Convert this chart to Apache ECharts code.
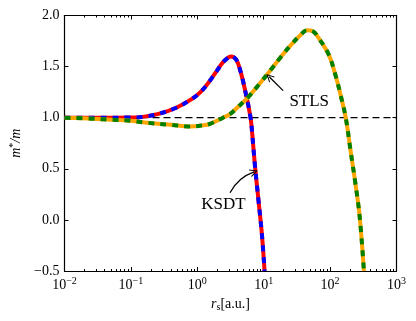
<!DOCTYPE html>
<html>
<head>
<meta charset="utf-8">
<script src="https://cdn.jsdelivr.net/npm/echarts@6/dist/echarts.min.js"></script>
<style>
  html, body { margin: 0; padding: 0; background: #fff; }
  #chart { width: 416px; height: 321px; }
</style>
</head>
<body>
<div id="chart"></div>
<script>
// values
const ksdtX = [0.01, 0.03, 0.1, 0.15, 0.27, 0.49, 0.86, 1.094, 1.35, 1.66, 1.98, 2.35, 2.71, 3.22, 3.83, 4.4, 5.24, 6.34, 6.7, 7.41, 8.32, 9.36, 10.3];
const ksdtY = [1.0, 1.0, 1.002, 1.008, 1.04, 1.10, 1.19, 1.245, 1.31, 1.39, 1.46, 1.53, 1.57, 1.60, 1.57, 1.47, 1.27, 1.0, 0.85, 0.52, 0.2, -0.13, -0.5];

const stlsX = [0.01, 0.026, 0.05, 0.1, 0.15, 0.4, 0.78, 1.2, 1.55, 2.44, 3.1, 4.0, 5.8, 8.6, 12.5, 17.9, 25.6, 36, 45, 55, 67, 95, 120, 143, 172, 202, 240, 279, 323];
const stlsY = [1.0, 0.99, 0.98, 0.97, 0.955, 0.93, 0.915, 0.925, 0.94, 1.0, 1.035, 1.1, 1.2, 1.33, 1.46, 1.59, 1.71, 1.81, 1.855, 1.845, 1.78, 1.62, 1.42, 1.23, 1.0, 0.69, 0.36, 0.03, -0.5];

const refX = [0.01, 1000];
const refY = [1, 1];

// annotations: [text x, text y], arrow [from, to]
const stlsLabel = [48.5, 1.157];
const stlsArrow = [[19.6, 1.265], [12.1, 1.40]];
const ksdtLabel = [2.48, 0.147];
const ksdtArrow = [[3.11, 0.265], [7.16, 0.47]];

const font = "'Liberation Serif', 'DejaVu Serif', serif";

const zip = (xs, ys) => xs.map((x, i) => [x, ys[i]]);

// minor tick positions in log10 space
const minorLog = [];
for (let n = -2; n < 3; n++) {
  for (let k = 2; k <= 9; k++) minorLog.push(n + Math.log10(k));
}

const chevron = 'path://M0,10 L5,0 L10,10 L8.6,10 L5,2.8 L1.4,10 Z';

function supLabel(v) {
  const e = Math.round(Math.log10(v));
  return '{b|10}{e|' + (e < 0 ? '−' + (-e) : e) + '}';
}

const chart = echarts.init(document.getElementById('chart'));

const majorX = (pos, labels) => ({
  type: 'log',
  logBase: 10,
  min: 0.01,
  max: 1000,
  position: pos,
  axisLine: { show: true, onZero: false, lineStyle: { color: '#000', width: 1.2 } },
  axisTick: { show: true, inside: true, length: 4, lineStyle: { color: '#000', width: 1 } },
  axisLabel: labels ? {
    show: true,
    margin: 5,
    formatter: supLabel,
    rich: {
      b: { fontFamily: font, fontSize: 14, color: '#000' },
      e: { fontFamily: font, fontSize: 10, color: '#000', padding: [0, 0, 8, 0] }
    }
  } : { show: false },
  splitLine: { show: false },
  minorTick: { show: false }
});

const minorX = (pos) => ({
  type: 'value',
  min: -2,
  max: 3,
  position: pos,
  axisLine: { show: false, onZero: false },
  axisTick: { show: true, inside: true, length: 2, customValues: minorLog, lineStyle: { color: '#000', width: 1 } },
  axisLabel: { show: false, customValues: minorLog },
  splitLine: { show: false }
});

const yBase = (pos, labels) => ({
  type: 'value',
  min: -0.5,
  max: 2.0,
  interval: 0.5,
  position: pos,
  axisLine: { show: true, onZero: false, lineStyle: { color: '#000', width: 1.2 } },
  axisTick: { show: true, inside: true, length: 4, lineStyle: { color: '#000' } },
  axisLabel: labels ? {
    margin: 5,
    fontFamily: font,
    fontSize: 14,
    color: '#000',
    formatter: v => v.toFixed(1).replace('-', '−')
  } : { show: false },
  splitLine: { show: false }
});

const arrowStyle = (curv) => ({ color: '#000', width: 1.3, type: 'solid', opacity: 1, curveness: curv });

const options = {
  animation: false,
  grid: { left: 64.5, right: 19.5, top: 15.5, bottom: 50 },
  xAxis: [
    Object.assign(majorX('bottom', true), {
      name: '{i|r}{s|s}{n|[a.u.]}',
      nameLocation: 'middle',
      nameGap: 24,
      nameTextStyle: {
        rich: {
          i: { fontFamily: font, fontStyle: 'italic', fontSize: 14, color: '#000' },
          s: { fontFamily: font, fontSize: 10, color: '#000', padding: [6, 0, 0, 0] },
          n: { fontFamily: font, fontSize: 14, color: '#000' }
        }
      }
    }),
    minorX('bottom'),
    majorX('top', false),
    minorX('top')
  ],
  yAxis: [
    Object.assign(yBase('left', true), {
      name: '{i|m}{s|*}{i|/m}',
      nameLocation: 'middle',
      nameGap: 38,
      nameTextStyle: {
        rich: {
          i: { fontFamily: font, fontStyle: 'italic', fontSize: 14, color: '#000' },
          s: { fontFamily: font, fontSize: 10, color: '#000', padding: [0, 0, 6, 0] }
        }
      }
    }),
    yBase('right', false)
  ],
  series: [
    {
      type: 'line',
      data: zip(refX, refY),
      symbol: 'none',
      lineStyle: { color: '#000', width: 1.3, type: [7, 4] },
      z: 1
    },
    {
      type: 'line',
      data: zip(ksdtX, ksdtY),
      symbol: 'none',
      smooth: 0.4,
      lineStyle: { color: '#ff0000', width: 4 },
      z: 2
    },
    {
      type: 'line',
      data: zip(ksdtX, ksdtY),
      symbol: 'none',
      smooth: 0.4,
      lineStyle: { color: '#0000ff', width: 4, type: [6, 6] },
      z: 3,
      markPoint: {
        silent: true,
        symbol: 'rect',
        symbolSize: 1,
        itemStyle: { color: 'transparent' },
        label: { show: true, position: 'inside', formatter: 'KSDT', fontFamily: font, fontSize: 17, color: '#000' },
        data: [{ coord: ksdtLabel }]
      }
    },
    {
      type: 'line',
      data: zip(stlsX, stlsY),
      symbol: 'none',
      smooth: 0.4,
      lineStyle: { color: '#ffa500', width: 4 },
      z: 4
    },
    {
      type: 'line',
      data: zip(stlsX, stlsY),
      symbol: 'none',
      smooth: 0.4,
      lineStyle: { color: '#008000', width: 4, type: [6, 6] },
      z: 5,
      markPoint: {
        silent: true,
        symbol: 'rect',
        symbolSize: 1,
        itemStyle: { color: 'transparent' },
        label: { show: true, position: 'inside', formatter: 'STLS', fontFamily: font, fontSize: 17, color: '#000' },
        data: [{ coord: stlsLabel }]
      }
    },
    {
      // annotation arrows
      type: 'lines',
      coordinateSystem: 'cartesian2d',
      silent: true,
      symbol: ['none', chevron],
      symbolSize: 8,
      lineStyle: { color: '#000', width: 1.3, opacity: 1 },
      z: 6,
      data: [
        { coords: ksdtArrow, lineStyle: arrowStyle(0.2) },
        { coords: stlsArrow, lineStyle: arrowStyle(0) }
      ]
    }
  ]
};

chart.setOption(options);
</script>
</body>
</html>
